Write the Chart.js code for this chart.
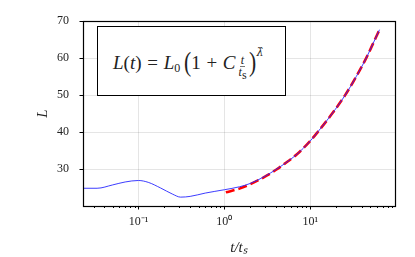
<!DOCTYPE html>
<html>
<head>
<meta charset="utf-8">
<script src="https://cdn.jsdelivr.net/npm/chart.js@4.4.1/dist/chart.umd.min.js"></script>
<style>
  html, body { margin: 0; padding: 0; background: #fff; }
  #wrap { position: relative; width: 415px; height: 257px; }
  #box {
    position: absolute; left: 97px; top: 26px; width: 187px; height: 68px;
    border: 1.5px solid #000; background: #fff;
    font-family: "Liberation Serif", serif; font-size: 19px; color: #222;
    white-space: nowrap;
  }
  #f { position: absolute; left: 15px; top: 26px; line-height: 19px; }
  #box i { font-style: italic; }
  #box sub { font-size: 12px; vertical-align: -3px; }
  .op { margin: 0 1px; }
  .big { font-size: 27px; vertical-align: -2px; display: inline-block; transform: scaleX(0.8); margin: 0 -1px; }
  .frac { display: inline-flex; flex-direction: column; align-items: center; vertical-align: 5px; font-size: 12px; line-height: 10px; margin: 0 2px 0 3px; }
  .frac .num { border-bottom: 0.6px solid #777; padding: 0 1px 1px; }
  .frac .den sub { font-size: 8px; vertical-align: -2px; }
  .sup { font-family: "DejaVu Serif", serif; font-size: 11px; position: relative; top: -13px; margin-left: 1px; font-style: italic; }
</style>
</head>
<body>
<div id="wrap">
  <canvas id="c" width="415" height="257"></canvas>
  <div id="box"><span id="f"><i>L</i>(<i>t</i>)&nbsp;<span class="op">=</span>&nbsp;<i>L</i><sub>0</sub>&thinsp;<span class="big">(</span>1&nbsp;<span class="op">+</span>&nbsp;<i>C</i><span class="frac"><span class="num"><i>t</i></span><span class="den"><i>t</i><sub>s</sub></span></span><span class="big">)</span><span class="sup">λ̂</span></span></div>
</div>
<script>
// ---- data ----
const tBlue = [0.0226, 0.033, 0.05, 0.07, 0.1, 0.13, 0.18, 0.25, 0.31, 0.4, 0.6, 1.0, 1.5, 2, 3, 4, 5, 7, 10, 12.2, 18, 25.5, 34.3, 44.8, 54, 64];
const LBlue = [24.8, 24.8, 25.7, 26.5, 26.9, 26.4, 24.9, 23.2, 22.4, 22.6, 23.5, 24.4, 25.2, 26.1, 28.1, 29.9, 31.4, 34.0, 37.6, 40, 45, 50, 55, 60, 64, 67.7];
const tFit = [1.04, 1.5, 2, 3, 4, 5, 7, 10, 12.2, 18, 25.5, 34.3, 44.8, 54, 64];
const LFit = [23.7, 24.7, 25.9, 28.0, 29.8, 31.4, 34.0, 37.6, 40, 45, 50, 55, 60, 64, 67.7];
const xMajorTicks = [0.1, 1, 10];
const xMajorLabels = ['10⁻¹', '10⁰', '10¹'];
const xMinorTicks = [0.03,0.04,0.05,0.06,0.07,0.08,0.09,0.2,0.3,0.4,0.5,0.6,0.7,0.8,0.9,2,3,4,5,6,7,8,9,20,30,40,50,60,70,80,90];
const yTicks = [30, 40, 50, 60, 70];
const xMin = 0.0226, xMax = 97, yMin = 20, yMax = 70;

const serif = '"Liberation Serif", serif';
const isMajor = v => xMajorTicks.some(m => Math.abs(m - v) / m < 1e-6);

const tickPlugin = {
  id: 'ticksAndFrame',
  afterDraw(chart) {
    const ctx = chart.ctx, a = chart.chartArea;
    const xs = chart.scales.x, ys = chart.scales.y;
    ctx.save();
    ctx.strokeStyle = '#000';
    ctx.lineWidth = 1;
    xs.ticks.forEach(t => {
      const px = Math.round(xs.getPixelForValue(t.value)) + 0.5;
      const len = isMajor(t.value) ? 3.5 : 2;
      ctx.beginPath(); ctx.moveTo(px, a.bottom); ctx.lineTo(px, a.bottom + len); ctx.stroke();
    });
    ys.ticks.forEach(t => {
      const py = Math.round(ys.getPixelForValue(t.value)) + 0.5;
      ctx.beginPath(); ctx.moveTo(a.left, py); ctx.lineTo(a.left - 3.5, py); ctx.stroke();
    });
    ctx.lineWidth = 1.2;
    ctx.strokeRect(Math.round(a.left) + 0.5, Math.round(a.top) + 0.5, Math.round(a.right - a.left), Math.round(a.bottom - a.top));
    ctx.restore();
  }
};

new Chart(document.getElementById('c'), {
  type: 'line',
  data: {
    datasets: [
      {
        data: tBlue.map((t, i) => ({ x: t, y: LBlue[i] })),
        borderColor: 'rgba(40,40,255,0.9)', borderWidth: 1, pointRadius: 0,
        cubicInterpolationMode: 'monotone', fill: false
      },
      {
        data: tFit.map((t, i) => ({ x: t, y: LFit[i] })),
        borderColor: '#ff0000', borderWidth: 2.6, borderDash: [9, 4], pointRadius: 0,
        cubicInterpolationMode: 'monotone', fill: false
      }
    ]
  },
  options: {
    responsive: false, animation: false,
    layout: { padding: { top: 13, right: 20, left: 0, bottom: 0 } },
    plugins: { legend: { display: false }, tooltip: { enabled: false } },
    scales: {
      x: {
        type: 'logarithmic', min: xMin, max: xMax,
        afterBuildTicks: s => { s.ticks = xMajorTicks.concat(xMinorTicks).sort((a, b) => a - b).filter(v => v >= xMin && v <= xMax).map(v => ({ value: v })); },
        afterFit: s => { s.height = 51; },
        ticks: {
          autoSkip: false, maxRotation: 0, minRotation: 0, padding: 9, color: '#222',
          font: { family: serif, size: 12 },
          callback: v => { const i = xMajorTicks.findIndex(m => Math.abs(m - v) / m < 1e-6); return i >= 0 ? xMajorLabels[i] : ''; }
        },
        grid: { drawTicks: false, color: c => (c.tick && isMajor(c.tick.value)) ? 'rgba(0,0,0,0.1)' : 'rgba(0,0,0,0)', lineWidth: 1 },
        border: { display: false },
        title: { display: true, text: 't/tₛ', color: '#222', font: { family: serif, size: 15, style: 'italic' }, padding: { top: 6, bottom: 0 } }
      },
      y: {
        min: yMin, max: yMax,
        afterBuildTicks: s => { s.ticks = yTicks.map(v => ({ value: v })); },
        afterFit: s => { s.width = 83; },
        ticks: { padding: 14, color: '#222', font: { family: serif, size: 12 } },
        grid: { drawTicks: false, color: 'rgba(0,0,0,0.1)', lineWidth: 1 },
        border: { display: false },
        title: { display: true, text: 'L', color: '#222', font: { family: serif, size: 15, style: 'italic' }, padding: { top: 34, bottom: 0 } }
      }
    }
  },
  plugins: [tickPlugin]
});
</script>
</body>
</html>
